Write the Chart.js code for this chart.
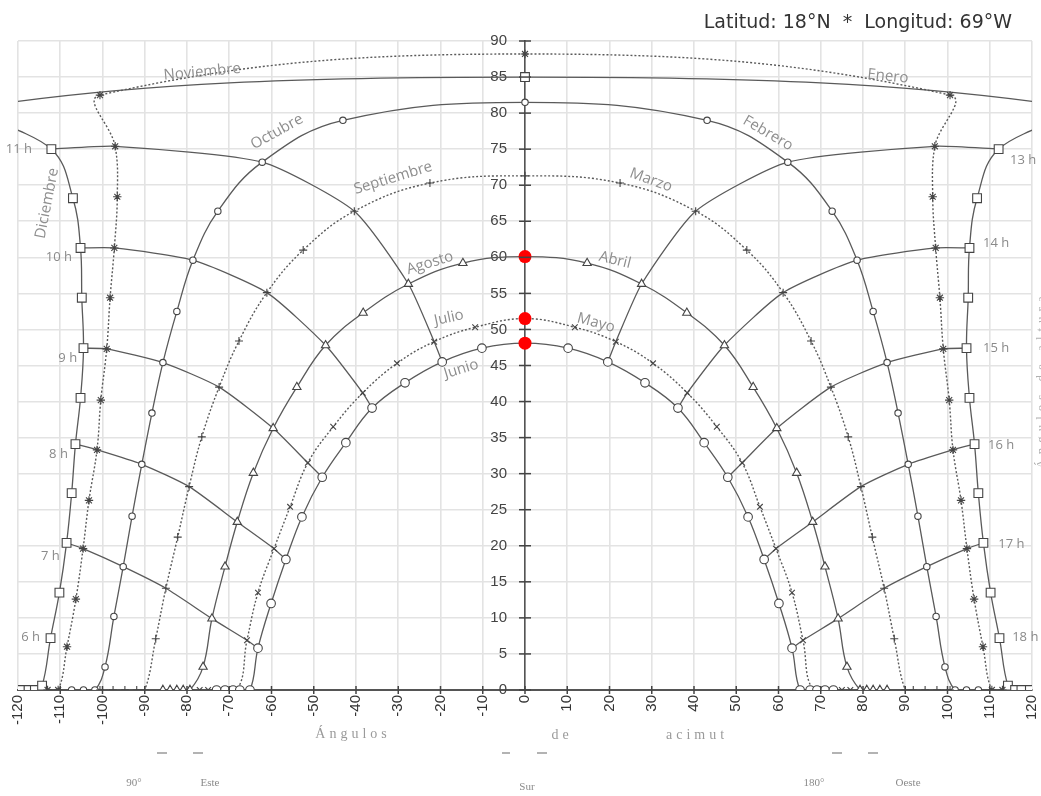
<!DOCTYPE html>
<html><head><meta charset="utf-8">
<script src="https://cdn.jsdelivr.net/npm/chart.js@4.4.1/dist/chart.umd.min.js"></script>
<style>html,body{margin:0;padding:0;background:#fff;}canvas{display:block;}</style>
</head><body>
<canvas id="c" width="1041" height="796"></canvas>
<script>
// ---------- tick labels ----------
const xTickValues = [-120,-110,-100,-90,-80,-70,-60,-50,-40,-30,-20,-10,0,10,20,30,40,50,60,70,80,90,100,110,120];
const yTickValues = [0,5,10,15,20,25,30,35,40,45,50,55,60,65,70,75,80,85,90];

// ---------- month curves (azimuth, altitude) ----------
const junioAz  = [-73,-71,-69.1,-67.5,-65.1,-63.2,-60.1,-56.6,-52.8,-48.0,-42.4,-36.2,-28.4,-19.6,-10.2,0,10.2,19.6,28.4,36.2,42.4,48.0,52.8,56.6,60.1,63.2,65.1,67.5,69.1,71,73];
const junioAlt = [0,0,0,0,0,5.8,12.0,18.1,24.0,29.5,34.3,39.1,42.6,45.5,47.4,48.1,47.4,45.5,42.6,39.1,34.3,29.5,24.0,18.1,12.0,5.8,0,0,0,0,0];

const julioMayoAz  = [-77,-75,-68.3,-65.8,-63.2,-59.4,-55.6,-51.4,-45.4,-38.4,-30.3,-21.5,-11.8,0,11.8,21.5,30.3,38.4,45.4,51.4,55.6,59.4,63.2,65.8,68.3,75,77];
const julioMayoAlt = [0,0,0,6.9,13.5,19.6,25.4,31.5,36.5,41.2,45.3,48.3,50.3,51.5,50.3,48.3,45.3,41.2,36.5,31.5,25.4,19.6,13.5,6.9,0,0,0];

const agostoAbrilAz  = [-85.7,-84,-82.4,-80.9,-79.3,-76.2,-74.1,-71,-68.1,-64.3,-59.6,-54,-47.2,-38.3,-27.6,-14.7,0,14.7,27.6,38.3,47.2,54,59.6,64.3,68.1,71,74.1,76.2,79.3,80.9,82.4,84,85.7];
const agostoAbrilAlt = [0,0,0,0,0,3.2,9.9,17.1,23.3,30.1,36.3,42,47.8,52.3,56.3,59.2,60.1,59.2,56.3,52.3,47.8,42,36.3,30.1,23.3,17.1,9.9,3.2,0,0,0,0,0];

const sepMarAz  = [-100.6,-97.5,-94.7,-91.9,-90,-87.4,-85,-82.2,-79.5,-76.5,-72.4,-67.7,-61.1,-52.5,-40.4,-22.5,0,22.5,40.4,52.5,61.1,67.7,72.4,76.5,79.5,82.2,85,87.4,90,91.9,94.7,97.5,100.6];
const sepMarAlt = [0,0,0,0,0,7.1,14.1,21.2,28.2,35.1,42,48.4,55.1,61,66.4,70.3,71.3,70.3,66.4,61,55.1,48.4,42,35.1,28.2,21.2,14.1,7.1,0,0,0,0,0];

const octFebAz  = [-107.3,-104.5,-101.8,-99.4,-97.3,-95.1,-93,-90.7,-88.3,-85.7,-82.4,-78.6,-72.7,-62.2,-43.1,0,43.1,62.2,72.7,78.6,82.4,85.7,88.3,90.7,93,95.1,97.3,99.4,101.8,104.5,107.3];
const octFebAlt = [0,0,0,3.2,10.2,17.1,24.1,31.3,38.4,45.4,52.5,59.6,66.4,73.2,79,81.5,79,73.2,66.4,59.6,52.5,45.4,38.4,31.3,24.1,17.1,10.2,3.2,0,0,0];

const novEneAz  = [-113,-110.5,-108.4,-106.3,-104.6,-103.2,-101.3,-100.4,-99,-98.2,-97.2,-96.5,-97,-100.6,0,100.6,97,96.5,97.2,98.2,99,100.4,101.3,103.2,104.6,106.3,108.4,110.5,113];
const novEneAlt = [0,0,6,12.6,19.6,26.3,33.3,40.2,47.3,54.4,61.3,68.4,75.4,82.5,88.2,82.5,75.4,68.4,61.3,54.4,47.3,40.2,33.3,26.3,19.6,12.6,6,0,0];

const dicAz  = [-119.5,-117.5,-116,-114.3,-112.3,-110.2,-108.5,-107.3,-106.4,-105.2,-104.5,-104.9,-105.2,-107,-112.1,-130,0,130,112.1,107,105.2,104.9,104.5,105.2,106.4,107.3,108.5,110.2,112.3,114.3,116,117.5,119.5];
const dicAlt = [0,0,0,0.6,7.2,13.5,20.4,27.3,34.1,40.5,47.4,54.4,61.3,68.2,75,80.8,85,80.8,75,68.2,61.3,54.4,47.4,40.5,34.1,27.3,20.4,13.5,7.2,0.6,0,0,0];

// ---------- hour lines ----------
const h7Az  = [-108.5,-104.6,-95.1,-85,-74.1,-65.8,-63.2];  const h7Alt  = [20.4,19.6,17.1,14.1,9.9,6.9,5.8];
const h8Az  = [-106.4,-101.3,-90.7,-79.5,-68.1,-59.4,-56.6]; const h8Alt  = [34.1,33.3,31.3,28.2,23.3,19.6,18.1];
const h9Az  = [-104.5,-99,-85.7,-72.4,-59.6,-51.4,-48.0];    const h9Alt  = [47.4,47.3,45.4,42,36.3,31.5,29.5];
const h10Az = [-105.2,-97.2,-78.6,-61.1,-47.2,-38.4,-36.2];  const h10Alt = [61.3,61.3,59.6,55.1,47.8,41.2,39.1];
const h11Az = [-112.1,-97,-62.2,-40.4,-27.6,-21.5,-19.6];    const h11Alt = [75,75.4,73.2,66.4,56.3,48.3,45.5];
const h13Az = [112.1,97,62.2,40.4,27.6,21.5,19.6];           const h13Alt = [75,75.4,73.2,66.4,56.3,48.3,45.5];
const h14Az = [105.2,97.2,78.6,61.1,47.2,38.4,36.2];         const h14Alt = [61.3,61.3,59.6,55.1,47.8,41.2,39.1];
const h15Az = [104.5,99,85.7,72.4,59.6,51.4,48.0];           const h15Alt = [47.4,47.3,45.4,42,36.3,31.5,29.5];
const h16Az = [106.4,101.3,90.7,79.5,68.1,59.4,56.6];        const h16Alt = [34.1,33.3,31.3,28.2,23.3,19.6,18.1];
const h17Az = [108.5,104.6,95.1,85,74.1,65.8,63.2];          const h17Alt = [20.4,19.6,17.1,14.1,9.9,6.9,5.8];

// ---------- highlighted noon points ----------
const redAz  = [0,0,0];
const redAlt = [60.1,51.5,48.1];

// ---------- labels ----------
const monthNames = ['Noviembre','Enero','Octubre','Febrero','Diciembre','Septiembre','Marzo','Agosto','Abril','Julio','Mayo','Junio'];
const monthLabelAz  = [-76.4,85.9,-58.7,57.5,-113.1,-31.2,29.8,-22.5,21.3,-18,16.8,-15.1];
const monthLabelAlt = [85.7,85.1,77.4,77.2,67.5,71.0,70.7,59.2,59.6,51.6,50.9,44.5];
const monthLabelRot = [-5,6,-29,30,-79,-17,20,-17,14,-12,15,-17];

const hourLeftNames = ['11 h','10 h','9 h','8 h','7 h','6 h'];
const hourLeftAz  = [-116.7,-107.2,-106.0,-108.2,-110.1,-114.8];
const hourLeftAlt = [75.0,60.0,46.0,32.7,18.6,7.3];
const hourRightNames = ['13 h','14 h','15 h','16 h','17 h','18 h'];
const hourRightAz  = [114.8,108.4,108.4,109.6,112.0,115.3];
const hourRightAlt = [73.5,62.0,47.4,34.0,20.2,7.3];

const titleText = 'Latitud: 18°N  *  Longitud: 69°W';

// ---------- helpers ----------
const pts = (a, b) => a.map((v, i) => ({x: v, y: b[i]}));
const LINE = '#5a5a5a';
function monthSet(az, alt, style, radius, dashed) {
  return {
    data: pts(az, alt), showLine: true, tension: 0.4,
    borderColor: LINE, borderWidth: dashed ? 1.4 : 1.3, borderDash: dashed ? [2,2] : [],
    pointStyle: style, pointRadius: radius, pointBorderColor: '#444', pointBorderWidth: 1.1,
    pointBackgroundColor: '#fff', order: 1
  };
}
function hourSet(az, alt) {
  return { data: pts(az, alt), showLine: true, tension: 0.2, borderColor: LINE, borderWidth: 1.3,
           pointRadius: 0, order: 2 };
}

const datasets = [
  { data: pts(redAz, redAlt), pointStyle: 'circle', pointRadius: 6.5, pointBackgroundColor: '#ff0000',
    pointBorderColor: '#ff0000', pointBorderWidth: 0, showLine: false, order: 0 },
  monthSet(junioAz, junioAlt, 'circle', 4.3, false),
  monthSet(julioMayoAz, julioMayoAlt, 'crossRot', 4, true),
  monthSet(agostoAbrilAz, agostoAbrilAlt, 'triangle', 4.8, false),
  monthSet(sepMarAz, sepMarAlt, 'cross', 4, true),
  monthSet(octFebAz, octFebAlt, 'circle', 3.2, false),
  monthSet(novEneAz, novEneAlt, 'star', 4.2, true),
  monthSet(dicAz, dicAlt, 'rect', 6.2, false),
  hourSet(h7Az, h7Alt), hourSet(h8Az, h8Alt), hourSet(h9Az, h9Alt), hourSet(h10Az, h10Alt), hourSet(h11Az, h11Alt),
  hourSet(h13Az, h13Alt), hourSet(h14Az, h14Alt), hourSet(h15Az, h15Alt), hourSet(h16Az, h16Alt), hourSet(h17Az, h17Alt)
];

const decor = {
  id: 'decor',
  afterDatasetsDraw(chart) {
    const {ctx, scales: {x, y}} = chart;
    ctx.save();
    // axis tick marks crossing the axes
    ctx.strokeStyle = '#444'; ctx.lineWidth = 1.5;
    const y0 = y.getPixelForValue(0), x0 = x.getPixelForValue(0);
    xTickValues.forEach(v => { const px = x.getPixelForValue(v);
      if (v === -120 || v === 120) return;
      ctx.beginPath(); ctx.moveTo(px, y0 - 4); ctx.lineTo(px, y0 + 4); ctx.stroke(); });
    yTickValues.forEach(v => { const py = y.getPixelForValue(v);
      ctx.beginPath(); ctx.moveTo(x0 - 6, py); ctx.lineTo(x0 + 6, py); ctx.stroke(); });

    // month labels
    ctx.fillStyle = '#8e8e8e';
    ctx.font = '15px "Open Sans"';
    ctx.textAlign = 'center'; ctx.textBaseline = 'middle';
    monthNames.forEach((t, i) => {
      ctx.save();
      ctx.translate(x.getPixelForValue(monthLabelAz[i]), y.getPixelForValue(monthLabelAlt[i]));
      ctx.rotate(monthLabelRot[i] * Math.PI / 180);
      ctx.fillText(t, 0, 0);
      ctx.restore();
    });
    // hour labels
    ctx.font = '13px "Open Sans"';
    ctx.fillStyle = '#8a8a8a';
    ctx.textAlign = 'right';
    hourLeftNames.forEach((t, i) => ctx.fillText(t, x.getPixelForValue(hourLeftAz[i]), y.getPixelForValue(hourLeftAlt[i])));
    ctx.textAlign = 'left';
    hourRightNames.forEach((t, i) => ctx.fillText(t, x.getPixelForValue(hourRightAz[i]), y.getPixelForValue(hourRightAlt[i])));
    ctx.restore();
  },
  afterDraw(chart) {
    const {ctx} = chart;
    ctx.save();
    // title at top right
    ctx.fillStyle = '#333';
    ctx.font = '19px "DejaVu Sans"';
    ctx.textAlign = 'right'; ctx.textBaseline = 'alphabetic';
    ctx.fillText(titleText, 1012, 28);

    // axis title (spaced)
    ctx.fillStyle = '#9a9a9a';
    ctx.font = '14px "Liberation Serif"';
    ctx.textAlign = 'center'; ctx.textBaseline = 'middle';
    try { ctx.letterSpacing = '4px'; } catch (e) {}
    ctx.fillText('Ángulos', 353, 734);
    ctx.fillText('de', 562, 735);
    ctx.fillText('acimut', 697, 735);
    // right side vertical title (partly out of view)
    ctx.save();
    ctx.translate(1042, 380); ctx.rotate(-Math.PI / 2);
    ctx.fillStyle = '#b0b0b0';
    ctx.font = '13px "Liberation Serif"';
    try { ctx.letterSpacing = '5px'; } catch (e) {}
    ctx.fillText('Ángulos de altura', 0, 0);
    ctx.restore();
    try { ctx.letterSpacing = '0px'; } catch (e) {}

    // small dashes
    ctx.strokeStyle = '#9a9a9a'; ctx.lineWidth = 1.5;
    [[157,167],[193,203],[502,510],[537,547],[832,842],[868,878]].forEach(([a,b]) => {
      ctx.beginPath(); ctx.moveTo(a, 753); ctx.lineTo(b, 753); ctx.stroke(); });
    // direction labels
    ctx.fillStyle = '#8a8a8a';
    ctx.font = '11px "Liberation Serif"';
    ctx.fillText('90°', 134, 783);
    ctx.fillText('Este', 210, 783);
    ctx.fillText('Sur', 527, 787);
    ctx.fillText('180°', 814, 783);
    ctx.fillText('Oeste', 908, 783);
    ctx.restore();
  }
};

new Chart(document.getElementById('c'), {
  type: 'scatter',
  data: { datasets },
  options: {
    responsive: false, animation: false, devicePixelRatio: 1,
    layout: { padding: { left: 18, right: 9, top: 41, bottom: 66 } },
    plugins: { legend: { display: false }, tooltip: { enabled: false } },
    elements: { line: { capBezierPoints: false } },
    scales: {
      x: {
        type: 'linear', min: -120, max: 120, position: 'bottom',
        afterFit: s => { s.paddingLeft = 0; s.paddingRight = 0; },
        afterBuildTicks: s => { s.ticks = xTickValues.map(v => ({ value: v })); },
        grid: { color: '#e3e3e3', lineWidth: 1.6, drawTicks: false },
        border: { display: true, color: '#555', width: 2 },
        ticks: { minRotation: 90, maxRotation: 90, autoSkip: false, padding: 5, color: '#333',
                 font: { family: '"Liberation Sans", Arial', size: 15 }, callback: v => String(v) }
      },
      y: {
        type: 'linear', min: 0, max: 90, position: 'center',
        afterFit: s => { s.width = 0; s.paddingTop = 0; s.paddingBottom = 0; },
        afterBuildTicks: s => { s.ticks = yTickValues.map(v => ({ value: v })); },
        grid: { color: '#e3e3e3', lineWidth: 1.6, drawTicks: false },
        border: { display: true, color: '#555', width: 1.6 },
        ticks: { padding: 18, color: '#444', autoSkip: false,
                 font: { family: '"Liberation Sans", Arial', size: 15 }, callback: v => String(v) }
      }
    }
  },
  plugins: [decor]
});
</script>
</body></html>
